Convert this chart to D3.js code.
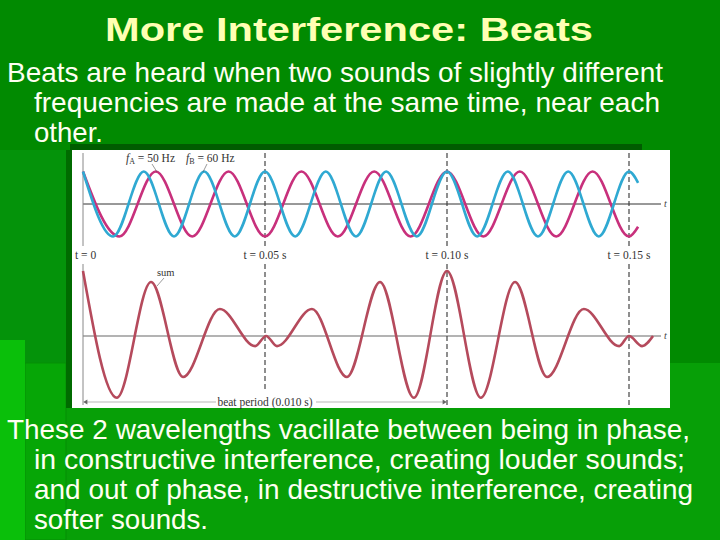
<!DOCTYPE html>
<html>
<head>
<meta charset="utf-8">
<script src="https://cdn.jsdelivr.net/npm/d3@7"></script>
<style>
  body { margin: 0; background: #018a01; }
  svg { display: block; }
</style>
</head>
<body>
<svg id="slide" width="720" height="540"></svg>
<script>
// Slide text
var titleText = "More Interference: Beats";
var introLines = ["Beats are heard when two sounds of slightly different",
                  "frequencies are made at the same time, near each",
                  "other."];
var outroLines = ["These 2 wavelengths vacillate between being in phase,",
                  "in constructive interference, creating louder sounds;",
                  "and out of phase, in destructive interference, creating",
                  "softer sounds."];

// Time marks (s)
var timeMarks = [0, 0.05, 0.10, 0.15];
var timeLabels = ["t = 0", "t = 0.05 s", "t = 0.10 s", "t = 0.15 s"];

// Wave B (60 Hz): extrema [t (s), value]
var waveB = [[0, 1], [0.0083, -1], [0.0167, 1], [0.025, -1], [0.0333, 1], [0.0417, -1],
             [0.05, 1], [0.0583, -1], [0.0667, 1], [0.075, -1], [0.0833, 1], [0.0917, -1],
             [0.10, 1], [0.1083, -1], [0.1167, 1], [0.125, -1], [0.1333, 1], [0.1417, -1],
             [0.15, 1], [0.1525, 0.65]];
// Wave A (50 Hz)
var waveA = [[0, 1], [0.01, -1], [0.02, 1], [0.03, -1], [0.04, 1], [0.05, -1],
             [0.06, 1], [0.07, -1], [0.08, 1], [0.09, -1], [0.10, 1], [0.11, -1],
             [0.12, 1], [0.13, -1], [0.14, 1], [0.15, -1], [0.1525, -0.7]];
// Sum of both
var waveSum = [[0, 2], [0.0093, -1.9], [0.0187, 1.66], [0.0275, -1.26], [0.0376, 0.83],
               [0.0473, -0.31], [0.0503, 0], [0.0533, -0.31], [0.0629, 0.83], [0.0725, -1.26],
               [0.0816, 1.66], [0.0909, -1.9], [0.10, 2], [0.1093, -1.9], [0.1187, 1.66],
               [0.1275, -1.26], [0.1376, 0.83], [0.1473, -0.31], [0.15, 0], [0.1536, -0.31],
               [0.1566, 0]];

var svg = d3.select("#slide");

// background pieces
svg.append("rect").attr("width", 720).attr("height", 540).attr("fill", "#018a01");
svg.append("rect").attr("x", 0).attr("y", 150).attr("width", 66).attr("height", 213).attr("fill", "#04930a");
svg.append("rect").attr("x", 0).attr("y", 363).attr("width", 720).attr("height", 177).attr("fill", "#079f07");
svg.append("rect").attr("x", 25).attr("y", 363).attr("width", 41).attr("height", 177)
  .attr("fill", "#06a606").attr("stroke", "#058f05").attr("stroke-width", 1);
svg.append("rect").attr("x", 0).attr("y", 340).attr("width", 25).attr("height", 200).attr("fill", "#0abf0a");

// title + text
svg.append("text").attr("x", 105).attr("y", 41)
  .attr("textLength", 488).attr("lengthAdjust", "spacingAndGlyphs")
  .style("font", "bold 34px 'Liberation Sans', Arial, sans-serif")
  .attr("fill", "#ffffb3").text(titleText);

var introX = [7, 34, 34], introW = [656, 626, 69];
svg.selectAll("text.intro").data(introLines).enter().append("text")
  .attr("class", "intro")
  .attr("x", (d, i) => introX[i]).attr("y", (d, i) => 82 + i * 30)
  .attr("textLength", (d, i) => introW[i]).attr("lengthAdjust", "spacingAndGlyphs")
  .style("font", "28px 'Liberation Sans', Arial, sans-serif")
  .attr("fill", "#fffff2").text(d => d);

var outroX = [7, 34, 34, 34], outroW = [683, 651, 659, 174];
svg.selectAll("text.outro").data(outroLines).enter().append("text")
  .attr("class", "outro")
  .attr("x", (d, i) => outroX[i]).attr("y", (d, i) => 439 + i * 30)
  .attr("textLength", (d, i) => outroW[i]).attr("lengthAdjust", "spacingAndGlyphs")
  .style("font", "28px 'Liberation Sans', Arial, sans-serif")
  .attr("fill", "#fffff2").text(d => d);

// picture frame
svg.append("rect").attr("x", 66).attr("y", 150).attr("width", 6).attr("height", 258).attr("fill", "#006b00");
svg.append("rect").attr("x", 70).attr("y", 144).attr("width", 572).attr("height", 6).attr("fill", "#005c00");
svg.append("rect").attr("x", 72).attr("y", 150).attr("width", 598).attr("height", 258).attr("fill", "#ffffff");

// scales
var x = d3.scaleLinear().domain([0, 0.15]).range([83, 629]);
var yTop = d3.scaleLinear().domain([-1, 1]).range([236.5, 171.5]);
var yBot = d3.scaleLinear().domain([-2, 2]).range([401, 271]);

var g = svg.append("g");
var serif = "'Liberation Serif', 'DejaVu Serif', serif";

// axes
g.append("line").attr("x1", x(0)).attr("x2", 661).attr("y1", yTop(0)).attr("y2", yTop(0))
  .attr("stroke", "#333").attr("stroke-width", 1);
g.append("line").attr("x1", x(0)).attr("x2", 661).attr("y1", yBot(0)).attr("y2", yBot(0))
  .attr("stroke", "#9a9a9a").attr("stroke-width", 1.5);
[yTop(0), yBot(0)].forEach(function (yy) {
  g.append("text").attr("x", 664).attr("y", yy + 3)
    .style("font", "italic 10px " + serif).attr("fill", "#444").text("t");
});

// vertical marks
timeMarks.forEach(function (t, i) {
  var xx = x(t);
  var bottom = i === 1 ? 391 : 408;
  var line = function (y1, y2) {
    var l = g.append("line").attr("x1", xx).attr("x2", xx).attr("y1", y1).attr("y2", y2);
    if (i === 0) l.attr("stroke", "#888").attr("stroke-width", 1);
    else l.attr("stroke", "#444").attr("stroke-width", 1.2).attr("stroke-dasharray", "5,3");
  };
  line(153, 246);
  line(264, i === 0 ? 405 : bottom);
  g.append("text").attr("x", xx).attr("y", 259).attr("text-anchor", i === 0 ? "start" : "middle")
    .attr("dx", i === 0 ? -8 : 0)
    .style("font", "11.5px " + serif).attr("fill", "#333").text(timeLabels[i]);
});

// curves
var lineTop = d3.line().x(d => x(d[0])).y(d => yTop(d[1])).curve(d3.curveMonotoneX);
var lineBot = d3.line().x(d => x(d[0])).y(d => yBot(d[1])).curve(d3.curveMonotoneX);

g.append("path").datum(waveA).attr("d", lineTop)
  .attr("fill", "none").attr("stroke", "#c8307c").attr("stroke-width", 2.6);
g.append("path").datum(waveB).attr("d", lineTop)
  .attr("fill", "none").attr("stroke", "#2fa9d2").attr("stroke-width", 2.6);
g.append("path").datum(waveSum).attr("d", lineBot)
  .attr("fill", "none").attr("stroke", "#b54a5c").attr("stroke-width", 2.6);

// curve labels
function fLabel(x0, sub, val) {
  var t = g.append("text").attr("x", x0).attr("y", 162)
    .style("font", "11.5px " + serif).attr("fill", "#333");
  t.append("tspan").style("font-style", "italic").text("f");
  t.append("tspan").attr("dy", 2).style("font-size", "8px").text(sub);
  t.append("tspan").attr("dy", -2).text(" = " + val);
}
fLabel(126, "A", "50 Hz");
fLabel(186, "B", "60 Hz");
g.append("line").attr("x1", 152).attr("y1", 164).attr("x2", 157).attr("y2", 172)
  .attr("stroke", "#555").attr("stroke-width", 0.6);
g.append("line").attr("x1", 207).attr("y1", 164).attr("x2", 203).attr("y2", 172)
  .attr("stroke", "#555").attr("stroke-width", 0.6);

g.append("text").attr("x", 157).attr("y", 276)
  .style("font", "10.5px " + serif).attr("fill", "#333").text("sum");
g.append("line").attr("x1", 164).attr("y1", 278).attr("x2", 157).attr("y2", 286)
  .attr("stroke", "#555").attr("stroke-width", 0.6);

// beat period arrow
var by = 402;
g.append("line").attr("x1", x(0) + 2).attr("x2", 216).attr("y1", by).attr("y2", by)
  .attr("stroke", "#999").attr("stroke-width", 0.7);
g.append("line").attr("x1", 316).attr("x2", x(0.10) - 2).attr("y1", by).attr("y2", by)
  .attr("stroke", "#999").attr("stroke-width", 0.7);
g.append("path").attr("d", d3.symbol(d3.symbolTriangle, 10)())
  .attr("transform", "translate(" + (x(0) + 3) + "," + by + ") rotate(-90)").attr("fill", "#666");
g.append("path").attr("d", d3.symbol(d3.symbolTriangle, 10)())
  .attr("transform", "translate(" + (x(0.10) - 3) + "," + by + ") rotate(90)").attr("fill", "#666");
g.append("text").attr("x", x(0.05)).attr("y", by + 4).attr("text-anchor", "middle")
  .style("font", "11.5px " + serif).attr("fill", "#333").text("beat period (0.010 s)");
</script>
</body>
</html>
